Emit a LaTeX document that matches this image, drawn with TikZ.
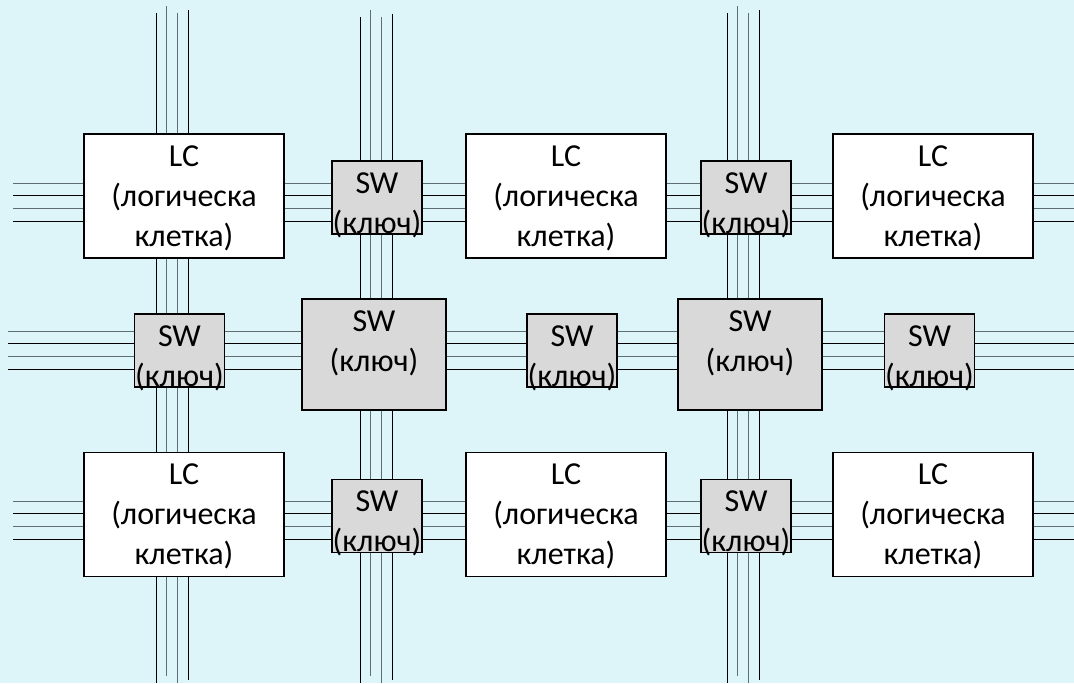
\documentclass[tikz,border=0pt]{standalone}
\usepackage{fontspec}
\setmainfont{Carlito}
\usetikzlibrary{positioning}

\definecolor{bgcyan}{HTML}{DDF4F9}
\definecolor{swgray}{HTML}{D9D9D9}
\definecolor{wiregray}{HTML}{5F6E74}

\begin{document}
\begin{tikzpicture}[x=1pt, y=-1pt,
        lc/.style={rectangle, draw=black, fill=white, line width=1.6pt, minimum width=200pt, minimum height=124pt, inner sep=0pt},
        sw/.style={rectangle, draw=black, fill=swgray, line width=1.6pt, minimum width=90pt, minimum height=73pt, inner sep=0pt},
        bigsw/.style={sw, minimum width=144pt, minimum height=111pt},
        boxtext/.style={align=center, inner sep=0pt, font=\fontsize{32}{40}\selectfont},
        wire/.style={line width=1pt}
    ]
        % Background
        \fill[bgcyan] (0,0) rectangle (1074,683);
        \useasboundingbox (0,0) rectangle (1074,683);

        % Horizontal wires
        \foreach \row/\xa in {202/13, 350/8, 520/13}
            \foreach \i/\col in {0/wiregray, 1/black, 2/wiregray, 3/black}
                \draw[wire, \col] (\xa, {\row-19+\i*12.67}) -- (1074, {\row-19+\i*12.67});

        % Vertical wires
        \foreach \cx/\dy in {172/0, 376/4, 743/0}
            \foreach \i/\col/\ya/\yb in {0/black/13/683, 1/wiregray/6/676, 2/wiregray/13/683, 3/black/10/680}
                \draw[wire, \col] ({\cx-16+\i*10.67}, \ya+\dy) -- ({\cx-16+\i*10.67}, \yb);

        % Row 1
        \node[lc] (lc11) at (184, 196) {};
        \node[sw] (sw11) at (377, 197.5) {};
        \node[lc] (lc12) at (566, 196) {};
        \node[sw] (sw12) at (746, 197.5) {};
        \node[lc] (lc13) at (933, 196) {};

        % Row 2
        \node[sw] (sw21) at (179.5, 350.5) {};
        \node[bigsw] (big21) at (374, 354.5) {};
        \node[sw] (sw22) at (572, 350.5) {};
        \node[bigsw] (big22) at (750, 354.5) {};
        \node[sw] (sw23) at (929.5, 350.5) {};

        % Row 3
        \node[lc] (lc31) at (184, 514.5) {};
        \node[sw] (sw31) at (377, 516) {};
        \node[lc] (lc32) at (566, 514.5) {};
        \node[sw] (sw32) at (746, 516) {};
        \node[lc] (lc33) at (933, 514.5) {};

        % Labels
        \foreach \b in {lc11, lc12, lc13, lc31, lc32, lc33}
            \node[boxtext, below=12pt of \b.north] (\b t) {LC\\(логическа\\клетка)};
        \foreach \b in {sw11, sw12, sw21, big21, sw22, big22, sw23, sw31, sw32}
            \node[boxtext, below=12pt of \b.north] (\b t) {SW\\(ключ)};
    \end{tikzpicture}
\end{document}
